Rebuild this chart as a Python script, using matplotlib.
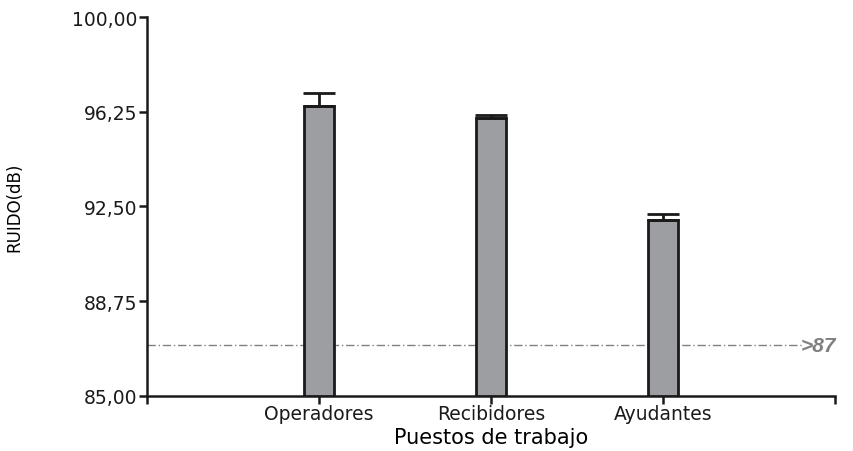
import matplotlib.pyplot as plt
from matplotlib.ticker import FuncFormatter

plt.rcParams['font.family'] = ['DejaVu Sans']

puestos = ['Operadores', 'Recibidores', 'Ayudantes']
ruido = [96.49, 96.01, 91.95]
error = [0.49, 0.13, 0.25]
limite = 87
yticks = [85.0, 88.75, 92.5, 96.25, 100.0]

fig = plt.figure(figsize=(8.54, 4.52), dpi=100)
ax = fig.add_axes([0.172, 0.122, 0.806, 0.838])

x = [1, 2, 3]
ax.bar(x, [r - 85 for r in ruido], bottom=85, width=0.175,
       color='#9d9ea2', edgecolor='#1a1a1a', linewidth=2, zorder=3)
ax.errorbar(x, ruido, yerr=[[0, 0, 0], error], fmt='none',
            ecolor='#1a1a1a', elinewidth=2, capsize=11.5, capthick=2, zorder=4)

# linea de referencia >87 dB
ax.plot([0, 3.8], [limite, limite], linestyle=(0, (6, 2, 1, 2)),
        color='#808080', linewidth=1, zorder=2)
ax.text(3.8, limite, '>87', color='#808080', fontsize=15,
        family='Liberation Sans', fontweight='bold', fontstyle='italic',
        va='center', ha='left')

ax.set_xlim(0, 4)
ax.set_ylim(85, 100)
ax.set_xticks([0, 1, 2, 3, 4])
ax.set_xticklabels([''] + puestos + [''])
ax.set_yticks(yticks)
ax.yaxis.set_major_formatter(FuncFormatter(lambda v, p: f'{v:.2f}'.replace('.', ',')))

for s in ['top', 'right']:
    ax.spines[s].set_visible(False)
for s in ['left', 'bottom']:
    ax.spines[s].set_linewidth(1.8)
    ax.spines[s].set_color('#1a1a1a')

ax.tick_params(axis='both', direction='out', length=6, width=1.8,
               colors='#1a1a1a', labelsize=13.5)
ax.tick_params(axis='y', pad=1)
ax.tick_params(axis='x', pad=0)

ax.set_xlabel('Puestos de trabajo', fontsize=15, labelpad=3)
ax.set_ylabel('RUIDO(dB)', fontsize=12, labelpad=35)

fig.savefig('out.png', dpi=100)
